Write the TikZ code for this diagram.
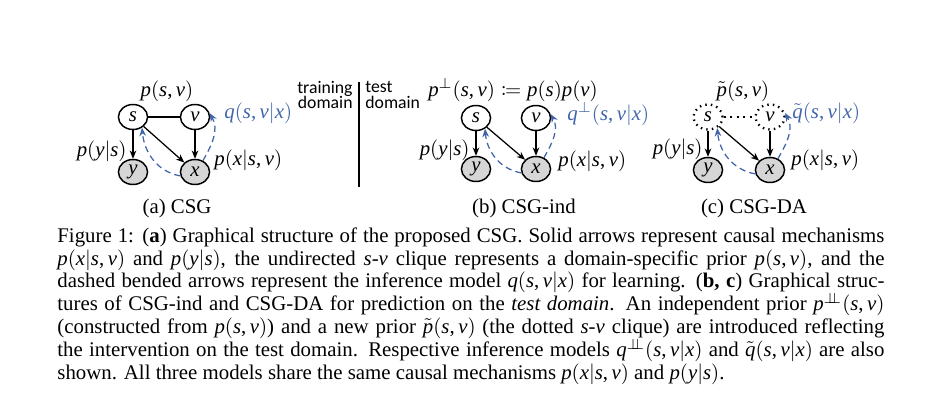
\documentclass[tikz,border=0pt]{standalone}
\usepackage{mathtools}
\usepackage{fontspec}
\setmainfont{Liberation Serif}[NFSSFamily=libserif]
\newfontfamily\calibri{Carlito}
% Times-like italic letters in maths
\DeclareSymbolFont{letters}{TU}{libserif}{m}{it}
\DeclareMathSymbol{,}{\mathpunct}{operators}{`,}
\DeclareMathSymbol{.}{\mathord}{operators}{`.}
\usetikzlibrary{arrows.meta,shapes.geometric}

\definecolor{inferblue}{RGB}{64,100,170}
\definecolor{obsgray}{RGB}{214,214,214}

% one justified caption line
\newcommand{\capline}[1]{\makebox[397pt][s]{#1}}

\tikzset{
	latent/.style={ellipse,draw,line width=0.7pt,minimum width=14pt,minimum height=12pt,inner sep=0pt},
	observed/.style={latent,fill=obsgray},
	newprior/.style={latent,dotted,line width=1.1pt},
	cause/.style={-{Stealth[length=4pt,width=3.2pt]},line width=0.6pt},
	infer/.style={-{Stealth[length=4pt,width=3.2pt]},dash pattern=on 3pt off 2pt,line width=0.6pt,inferblue},
	lbl/.style={inner sep=0pt,font=\fontsize{10}{12}\selectfont},
}

\begin{document}
\begin{tikzpicture}[x=0.48pt,y=0.48pt]
		\useasboundingbox (0,0) rectangle (942,413);
		
		% (a) CSG
		\begin{scope}[shift={(133,296)}]
			\node[latent] (sa) at (0,0) {$s$};
			\node[latent] (va) at (62,0) {$v$};
			\node[observed] (ya) at (0,-55) {$y$};
			\node[observed] (xa) at (62,-55) {$x$};
			\draw[line width=0.6pt] (sa) -- (va);
			\draw[cause] (sa) -- (ya);
			\draw[cause] (va) -- (xa);
			\draw[cause] (sa) -- (xa);
			\draw[infer] (xa.195) to[out=170,in=-85] (sa.-50);
			\draw[infer] (xa.55) to[out=60,in=-60] (va.15);
			\node[lbl] (psva) at (34,26) {$p(s,v)$};
			\node[lbl,anchor=west,text=inferblue] (qa) at (91,4) {$q(s,v|x)$};
			\node[lbl,anchor=east] (pysa) at (-6,-34) {$p(y|s)$};
			\node[lbl,anchor=west] (pxa) at (81,-43) {$p(x|s,v)$};
		\end{scope}
		
		% training | test
		\node[inner sep=0pt,anchor=east,align=right,font=\calibri\fontsize{8.5}{7.4}\selectfont] (train) at (353,318) {training\\domain};
		\node[inner sep=0pt,anchor=west,align=left,font=\calibri\fontsize{8.5}{7.4}\selectfont] (test) at (365,318) {test\\domain};
		\coordinate (divtop) at (359,331);
		\coordinate (divbot) at (359,226);
		\draw[line width=0.9pt] (divtop) -- (divbot);
		
		% (b) CSG-ind
		\begin{scope}[shift={(476,295)}]
			\node[latent] (sb) at (0,0) {$s$};
			\node[latent] (vb) at (60,0) {$v$};
			\node[observed] (yb) at (0,-51) {$y$};
			\node[observed] (xb) at (60,-51) {$x$};
			\draw[cause] (sb) -- (yb);
			\draw[cause] (vb) -- (xb);
			\draw[cause] (sb) -- (xb);
			\draw[infer] (xb.195) to[out=170,in=-85] (sb.-50);
			\draw[infer] (xb.55) to[out=60,in=-60] (vb.15);
			\node[lbl] (pindb) at (37,28) {$p^{\perp}(s,v)\coloneqq p(s)p(v)$};
			\node[lbl,anchor=west,text=inferblue] (qb) at (91,4) {$q^{\perp}(s,v|x)$};
			\node[lbl,anchor=east] (pysb) at (-6,-32) {$p(y|s)$};
			\node[lbl,anchor=west] (pxb) at (82,-43) {$p(x|s,v)$};
		\end{scope}
		
		% (c) CSG-DA
		\begin{scope}[shift={(708,296)}]
			\node[newprior] (sc) at (0,0) {$s$};
			\node[newprior] (vc) at (62,0) {$v$};
			\node[observed] (yc) at (0,-53) {$y$};
			\node[observed] (xc) at (62,-53) {$x$};
			\draw[dotted,line width=1.1pt] (sc) -- (vc);
			\draw[cause] (sc) -- (yc);
			\draw[cause] (vc) -- (xc);
			\draw[cause] (sc) -- (xc);
			\draw[infer] (xc.195) to[out=170,in=-85] (sc.-50);
			\draw[infer] (xc.55) to[out=60,in=-60] (vc.15);
			\node[lbl] (ptc) at (35,26) {$\tilde{p}(s,v)$};
			\node[lbl,anchor=west,text=inferblue] (qc) at (84,4) {$\tilde{q}(s,v|x)$};
			\node[lbl,anchor=east] (pysc) at (-5,-32) {$p(y|s)$};
			\node[lbl,anchor=west] (pxc) at (83,-43) {$p(x|s,v)$};
		\end{scope}
		
		% sub-captions
		\node[lbl] (capa) at (177,205) {(a) CSG};
		\node[lbl] (capb) at (524,205) {(b) CSG-ind};
		\node[lbl] (capc) at (754,205) {(c) CSG-DA};
		
		% caption
		\node[inner sep=0pt,anchor=north west,align=left,font=\fontsize{10}{11}\selectfont] (caption) at (57,186) {%
			\capline{Figure 1: (\textbf{a}) Graphical structure of the proposed CSG. Solid arrows represent causal mechanisms}\\
			\capline{$p(x|s,v)$ and $p(y|s)$, the undirected $s$-$v$ clique represents a domain-specific prior $p(s,v)$, and the}\\
			\capline{dashed bended arrows represent the inference model $q(s,v|x)$ for learning. (\textbf{b, c}) Graphical struc-}\\
			\capline{tures of CSG-ind and CSG-DA for prediction on the \emph{test domain}. An independent prior $p^{\perp\!\!\!\perp}(s,v)$}\\
			\capline{(constructed from $p(s,v)$) and a new prior $\tilde{p}(s,v)$ (the dotted $s$-$v$ clique) are introduced reflecting}\\
			\capline{the intervention on the test domain. Respective inference models $q^{\perp\!\!\!\perp}(s,v|x)$ and $\tilde{q}(s,v|x)$ are also}\\
			shown. All three models share the same causal mechanisms $p(x|s,v)$ and $p(y|s)$.};
	\end{tikzpicture}
\end{document}
